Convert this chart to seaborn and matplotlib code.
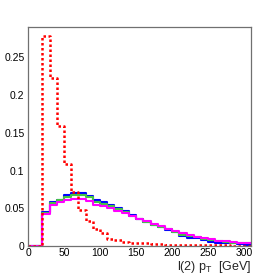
import numpy as np
import pandas as pd
import matplotlib
matplotlib.use("Agg")
import matplotlib.pyplot as plt
from matplotlib.ticker import MultipleLocator, FuncFormatter
import seaborn as sns

# binning: 31 bins of 10 GeV
edges = list(range(0, 320, 10))
centers = [e + 5 for e in edges[:-1]]

blue = [0, 0, 0.045, 0.058, 0.061, 0.067, 0.070, 0.070, 0.066, 0.061,
        0.058, 0.055, 0.051, 0.046, 0.041, 0.036, 0.032, 0.028, 0.025, 0.021,
        0.018, 0.0135, 0.011, 0.0102, 0.008, 0.0055, 0.0045, 0.0037, 0.0035, 0.0028, 0.002]
green = [0, 0, 0.044, 0.0565, 0.0605, 0.0655, 0.068, 0.068, 0.065, 0.059,
         0.056, 0.053, 0.049, 0.045, 0.040, 0.036, 0.032, 0.028, 0.025, 0.022,
         0.019, 0.015, 0.0135, 0.0115, 0.0095, 0.0078, 0.0062, 0.0055, 0.0047, 0.004, 0.0035]
magenta = [0, 0, 0.042, 0.055, 0.058, 0.061, 0.0625, 0.0625, 0.060, 0.055,
           0.053, 0.050, 0.047, 0.044, 0.040, 0.036, 0.033, 0.029, 0.026, 0.023,
           0.020, 0.0168, 0.0146, 0.0126, 0.0102, 0.0093, 0.0072, 0.0063, 0.0054, 0.0045, 0.0044]
red = [0, 0, 0.278, 0.222, 0.159, 0.109, 0.071, 0.048, 0.033, 0.023,
       0.017, 0.010, 0.008, 0.0057, 0.0045, 0.004, 0.0035, 0.003, 0.0025, 0.002,
       0.002, 0.0015, 0.0015, 0.0012, 0.001, 0.001, 0.0008, 0.0008, 0.0006, 0.0006, 0.0005]

sns.set_theme(style="white")
plt.rcParams['font.family'] = ['Liberation Sans', 'DejaVu Sans']
plt.rcParams['mathtext.fontset'] = 'custom'
plt.rcParams['mathtext.rm'] = 'Liberation Sans'

fig = plt.figure(figsize=(2.79, 2.74), dpi=100)
ax = fig.add_axes([0.1004, 0.102, 0.8006, 0.799])

series = [
    (blue, '#0000ff', '-', 1.5),
    (green, '#44c444', '-', 1.5),
    (magenta, '#ff00ff', '-', 1.5),
    (red, '#ff0000', (0, (1, 1)), 1.8),
]
for vals, col, ls, lw in series:
    df = pd.DataFrame({'pt': centers, 'w': vals})
    sns.histplot(data=df, x='pt', weights='w', bins=edges, element='step',
                 fill=False, color=col, linestyle=ls, linewidth=lw, ax=ax)

ax.set_xlim(0, 310)
ax.set_ylim(0, 0.29)
ax.xaxis.set_major_locator(MultipleLocator(50))
ax.xaxis.set_minor_locator(MultipleLocator(10))
ax.yaxis.set_major_locator(MultipleLocator(0.05))
ax.yaxis.set_minor_locator(MultipleLocator(0.01))
ax.yaxis.set_major_formatter(FuncFormatter(lambda v, p: f"{v:g}"))
ax.tick_params(which='both', direction='in', top=False, right=False,
               labelsize=7.5, color='#333333', labelcolor='black')
ax.tick_params(which='major', length=5, width=0.8)
ax.tick_params(axis='x', which='major', pad=1.5)
ax.tick_params(axis='y', which='major', pad=2.5)
ax.tick_params(which='minor', length=2.5, width=0.6)
for s in ax.spines.values():
    s.set_color('#707070')
    s.set_linewidth(0.9)

ax.set_ylabel('')
ax.set_xlabel('l(2) p$_\\mathregular{T}$  [GeV]', fontsize=9, ha='right', va='top')
ax.xaxis.set_label_coords(1.0, -0.058)

fig.savefig('out.png', dpi=100)
